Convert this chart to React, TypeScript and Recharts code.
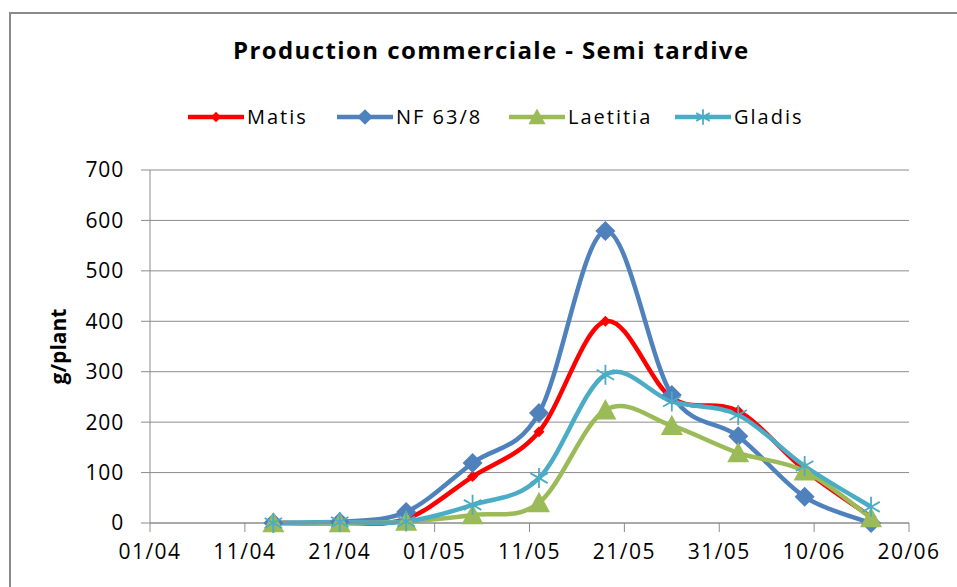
import React from 'react';
import { LineChart, Line, XAxis, YAxis, CartesianGrid } from 'recharts';

const dates = ['14/04', '21/04', '28/04', '05/05', '12/05', '19/05', '26/05', '02/06', '09/06', '16/06'];
const matis = [0, 0, 8, 92, 181, 400, 248, 222, 105, 12];
const nf638 = [0, 2, 22, 119, 218, 579, 254, 172, 52, 0];
const laetitia = [0, 0, 3, 16, 40, 224, 193, 139, 103, 10];
const gladis = [0, 2, 3, 36, 89, 294, 241, 214, 113, 32];
const xTickLabels = ['01/04', '11/04', '21/04', '01/05', '11/05', '21/05', '31/05', '10/06', '20/06'];
const yTicks = [0, 100, 200, 300, 400, 500, 600, 700];

const FONT = '"Open Sans", sans-serif';
const GRID = '#8c8c8c';

// day offset from 01/04
const toDay = (s: string) => {
  const [d, m] = s.split('/').map(Number);
  return (Date.UTC(2013, m - 1, d) - Date.UTC(2013, 3, 1)) / 86400000;
};
const xTicks = xTickLabels.map(toDay);
const labelFor: Record<number, string> = {};
xTickLabels.forEach((l) => (labelFor[toDay(l)] = l));

const data = dates.map((d, i) => ({
  day: toDay(d),
  matis: matis[i],
  nf: nf638[i],
  laetitia: laetitia[i],
  gladis: gladis[i],
}));

// Excel-like smoothing (Catmull-Rom as cubic bezier)
function excelCurve(context: any) {
  let pts: number[][] = [];
  return {
    areaStart() {},
    areaEnd() {},
    lineStart() {
      pts = [];
    },
    lineEnd() {
      if (!pts.length) return;
      context.moveTo(pts[0][0], pts[0][1]);
      for (let i = 0; i < pts.length - 1; i++) {
        const p0 = pts[i - 1] || pts[i];
        const p1 = pts[i];
        const p2 = pts[i + 1];
        const p3 = pts[i + 2] || p2;
        context.bezierCurveTo(
          p1[0] + (p2[0] - p0[0]) / 6,
          p1[1] + (p2[1] - p0[1]) / 6,
          p2[0] - (p3[0] - p1[0]) / 6,
          p2[1] - (p3[1] - p1[1]) / 6,
          p2[0],
          p2[1]
        );
      }
    },
    point(x: number, y: number) {
      pts.push([+x, +y]);
    },
  };
}

type Shape = 'smallDiamond' | 'diamond' | 'triangle' | 'star';

function Marker({ shape, x, y, color, s = 1 }: { shape: Shape; x: number; y: number; color: string; s?: number }) {
  if (shape === 'smallDiamond') {
    const r = 5.5 * s;
    return <path d={`M${x},${y - r}L${x + r},${y}L${x},${y + r}L${x - r},${y}Z`} fill={color} />;
  }
  if (shape === 'diamond') {
    const r = 10 * s;
    return <path d={`M${x},${y - r}L${x + r},${y}L${x},${y + r}L${x - r},${y}Z`} fill={color} />;
  }
  if (shape === 'triangle') {
    const r = 11 * s;
    return <path d={`M${x},${y - r}L${x + r},${y + r * 0.85}L${x - r},${y + r * 0.85}Z`} fill={color} />;
  }
  const r = 10 * s;
  const a = r * 0.87;
  const b = r * 0.5;
  return (
    <path
      d={`M${x},${y - r}L${x},${y + r}M${x - a},${y - b}L${x + a},${y + b}M${x - a},${y + b}L${x + a},${y - b}`}
      stroke={color}
      strokeWidth={1.8}
      fill="none"
    />
  );
}

const series = [
  { key: 'matis', name: 'Matis', color: '#FF0000', shape: 'smallDiamond' as Shape },
  { key: 'nf', name: 'NF 63/8', color: '#4F81BD', shape: 'diamond' as Shape },
  { key: 'laetitia', name: 'Laetitia', color: '#9BBB59', shape: 'triangle' as Shape },
  { key: 'gladis', name: 'Gladis', color: '#4BACC6', shape: 'star' as Shape },
];

const legendX = [188, 337, 509, 675];

export default function App() {
  return (
    <div style={{ position: 'absolute', left: 0, top: 0, width: 957, height: 587, background: '#fff', fontFamily: FONT }}>
      <div
        style={{
          position: 'absolute',
          left: 9,
          top: 12,
          right: 0,
          bottom: 0,
          borderTop: '2px solid #8a8a8a',
          borderLeft: '2px solid #8a8a8a',
        }}
      />
      <div
        style={{
          position: 'absolute',
          left: 233,
          top: 33,
          whiteSpace: 'nowrap',
          fontWeight: 700,
          fontSize: 24,
          letterSpacing: 1.4,
          color: '#000',
        }}
      >
        Production commerciale - Semi tardive
      </div>
      <svg style={{ position: 'absolute', left: 0, top: 97 }} width={957} height={40}>
        {series.map((s, i) => (
          <g key={s.key}>
            <line x1={legendX[i]} x2={legendX[i] + 56} y1={20} y2={20} stroke={s.color} strokeWidth={4.5} />
            <Marker shape={s.shape} x={legendX[i] + 28} y={20} color={s.color} s={s.shape === 'smallDiamond' ? 0.95 : 0.78} />
            <text x={legendX[i] + 59} y={27} fontSize={20} letterSpacing={2} fontFamily={FONT} fill="#000">
              {s.name}
            </text>
          </g>
        ))}
      </svg>
      <LineChart
        width={957}
        height={587}
        data={data}
        margin={{ top: 170, right: 48, bottom: 30, left: 0 }}
        style={{ position: 'absolute', left: 0, top: 0 }}
      >
        <CartesianGrid vertical={false} stroke={GRID} strokeWidth={1} />
        <XAxis
          dataKey="day"
          type="number"
          domain={[0, 80]}
          ticks={xTicks}
          tickFormatter={(v: number) => labelFor[v] ?? ''}
          stroke={GRID}
          tickSize={9}
          tickMargin={12}
          height={34}
          tick={{ fill: '#000', fontSize: 21, fontFamily: FONT, letterSpacing: 1.5 }}
          interval={0}
        />
        <YAxis
          domain={[0, 700]}
          ticks={yTicks}
          stroke={GRID}
          tickSize={9}
          tickMargin={17}
          width={150}
          tick={{ fill: '#000', fontSize: 21, fontFamily: FONT, letterSpacing: 0.8 }}
          label={{
            value: 'g/plant',
            angle: -90,
            position: 'insideLeft',
            offset: 59,
            style: { fontWeight: 700, fontSize: 21, fontFamily: FONT, fill: '#000', textAnchor: 'middle' },
          }}
        />
        {series.map((s) => (
          <Line
            key={s.key}
            dataKey={s.key}
            name={s.name}
            type={excelCurve as any}
            stroke={s.color}
            strokeWidth={4.5}
            isAnimationActive={false}
            dot={(p: any) => <Marker key={`${s.key}-${p.index}`} shape={s.shape} x={p.cx} y={p.cy} color={s.color} />}
            activeDot={false}
          />
        ))}
      </LineChart>
    </div>
  );
}
